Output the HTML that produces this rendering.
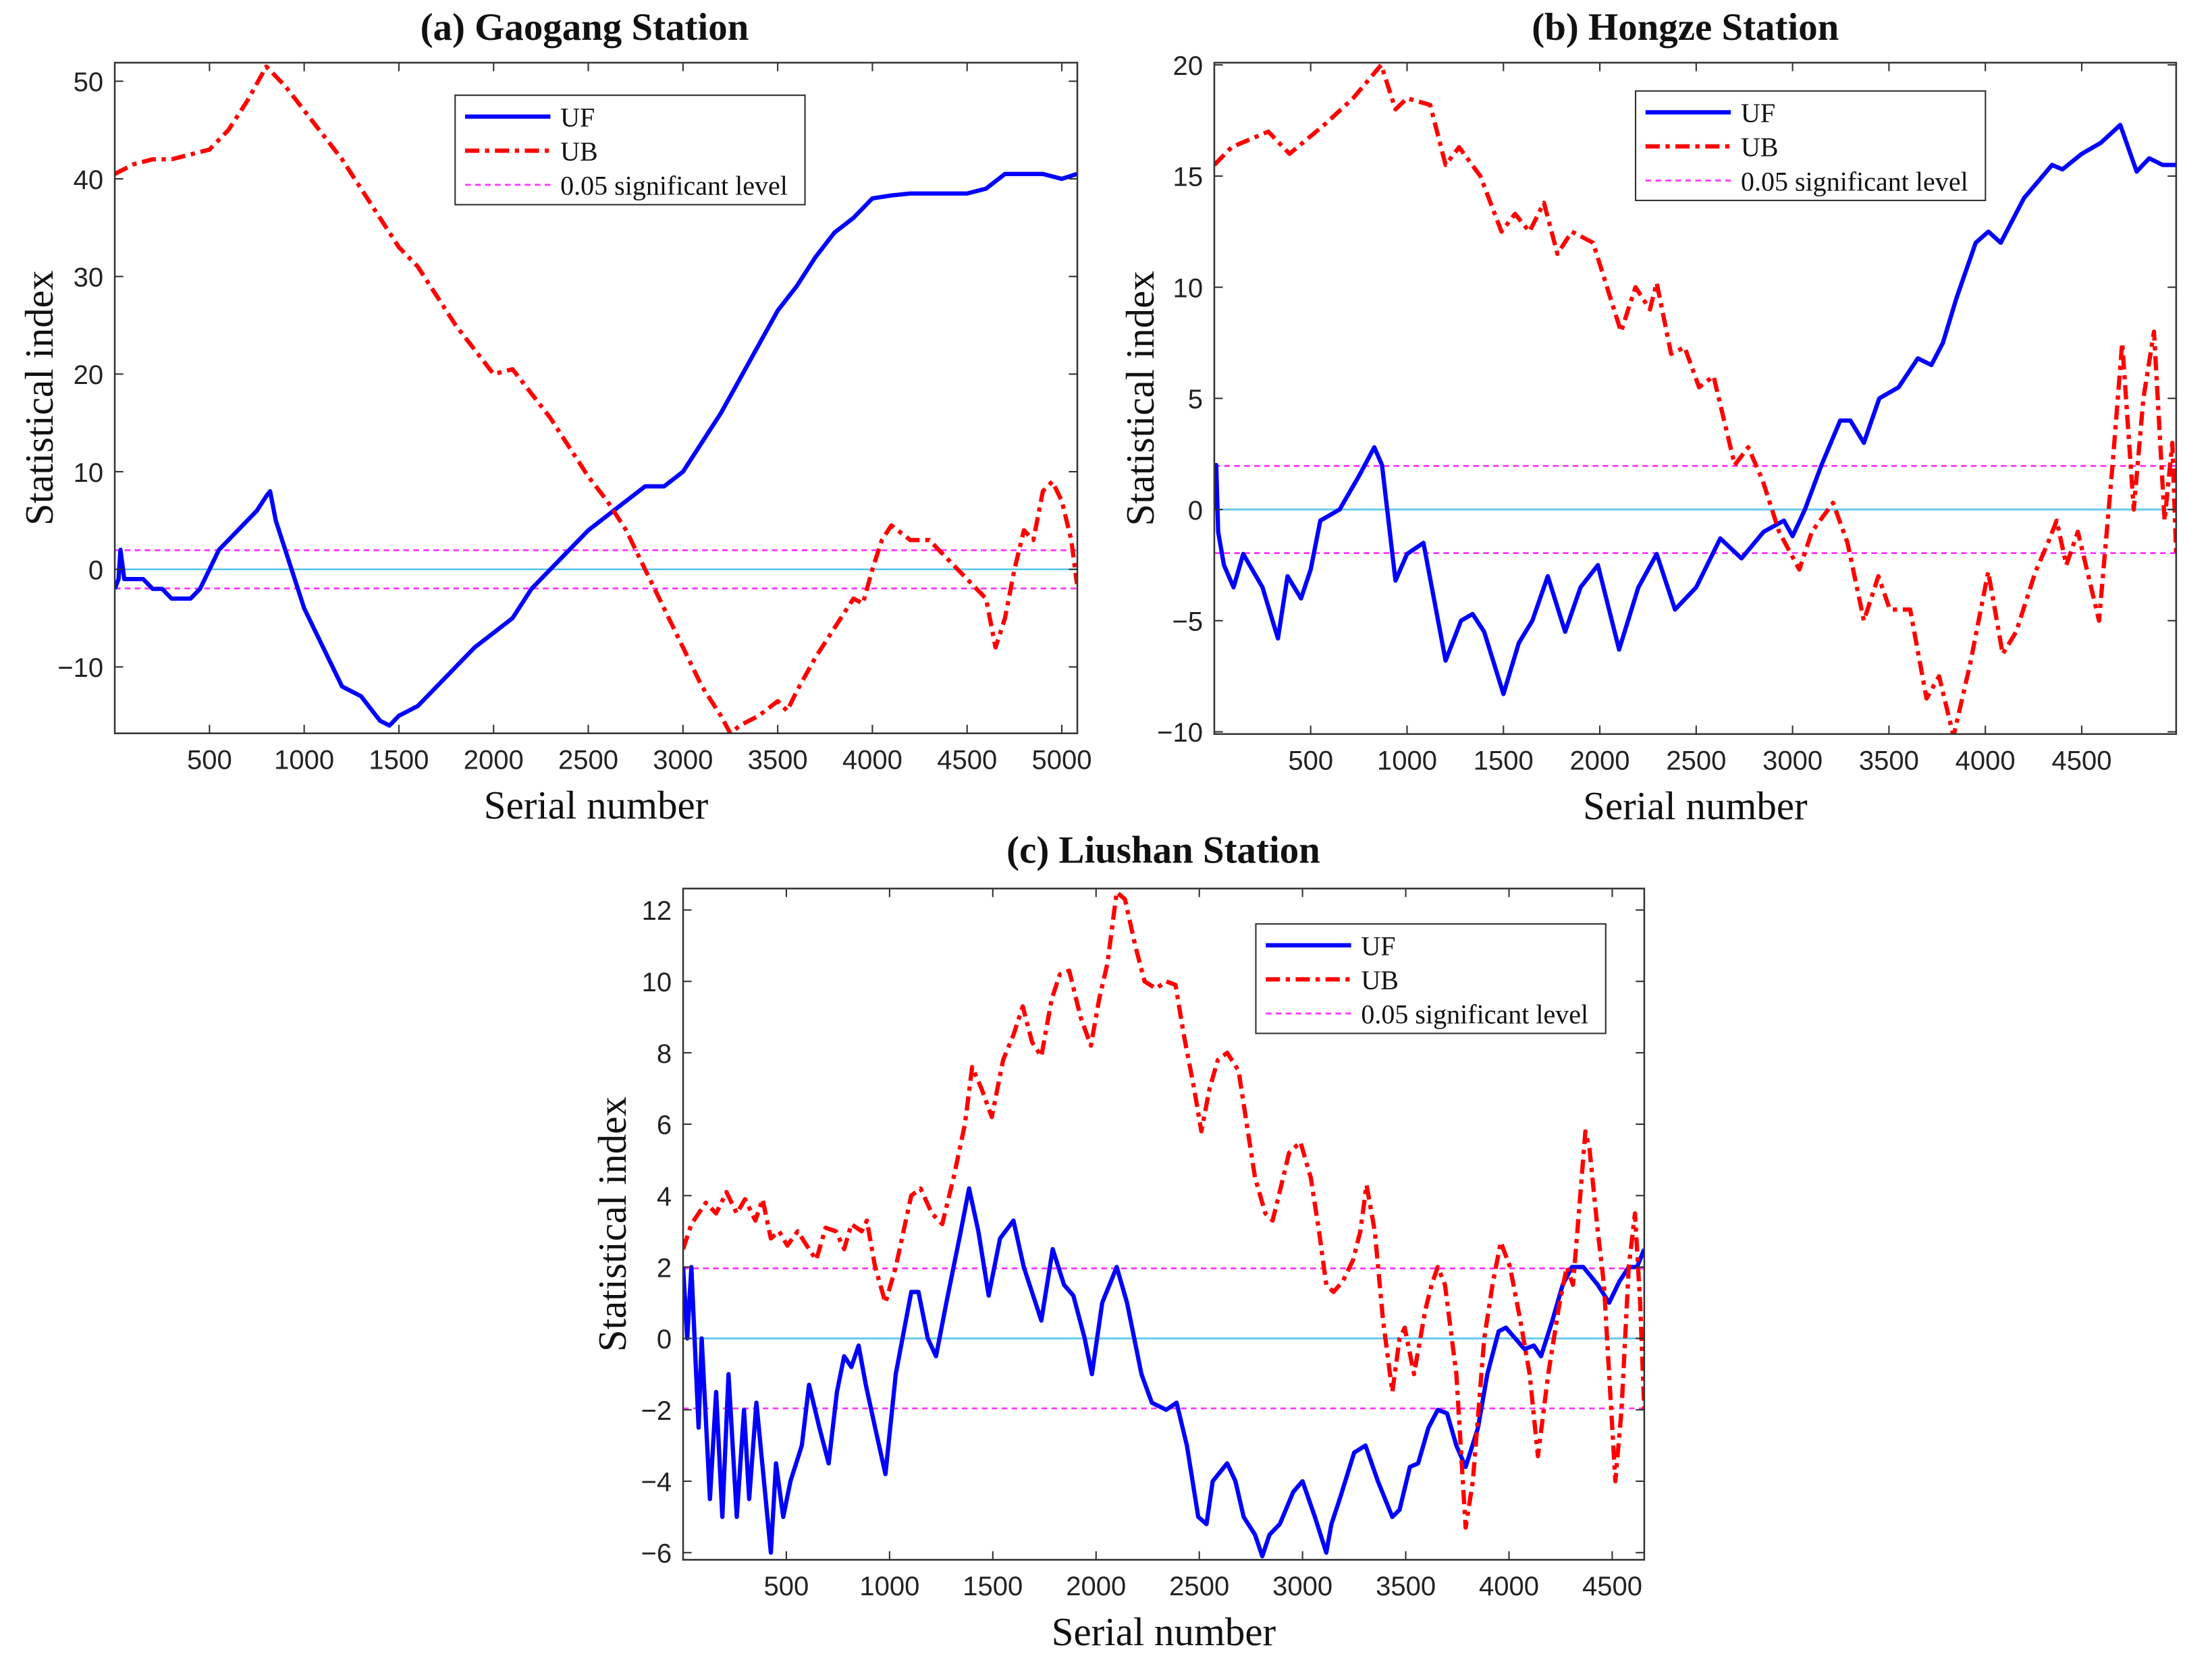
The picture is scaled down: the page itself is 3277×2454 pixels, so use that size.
<!DOCTYPE html>
<html><head><meta charset="utf-8"><style>
html,body{margin:0;padding:0;background:#fff}
svg{display:block}
</style></head><body>
<svg id="fig" width="3277" height="2454" viewBox="0 0 1555.3 1165" preserveAspectRatio="none" xmlns="http://www.w3.org/2000/svg"></svg>
<script>
// ---- Panel (a) Gaogang ----
const aUFx=[0,20,30,50,100,150,200,250,300,350,400,450,500,550,600,650,700,750,800,820,850,900,950,1000,1100,1200,1300,1400,1450,1500,1600,1700,1800,1900,2000,2100,2200,2300,2400,2500,2600,2700,2800,2900,3000,3100,3200,3300,3400,3500,3600,3700,3800,3900,4000,4100,4200,4300,4400,4500,4600,4700,4800,4900,5000,5080];
const aUFy=[-2,-1,2,-1,-1,-1,-2,-2,-3,-3,-3,-2,0,2,3,4,5,6,7.5,8,5,2,-1,-4,-8,-12,-13,-15.5,-16,-15,-14,-12,-10,-8,-6.5,-5,-2,0,2,4,5.5,7,8.5,8.5,10,13,16,19.5,23,26.5,29,32,34.5,36,38,38.3,38.5,38.5,38.5,38.5,39,40.5,40.5,40.5,40,40.5];
const aUBx=[0,100,200,300,400,500,600,700,800,900,1000,1100,1200,1300,1400,1500,1600,1700,1800,1900,2000,2100,2200,2300,2400,2500,2600,2700,2800,2900,3000,3100,3200,3250,3300,3400,3500,3550,3600,3700,3800,3900,3950,4000,4050,4100,4200,4300,4400,4500,4600,4650,4700,4750,4800,4850,4900,4950,5000,5050,5080];
const aUBy=[40.5,41.5,42,42,42.5,43,45,48,51.5,49.5,47,44.5,42,39,36,33,31,28,25,22.5,20,20.5,18,15.5,12.5,9.5,7,4,0,-4,-8,-12,-15,-16.8,-16,-15,-13.5,-14.5,-12.5,-9,-6,-3,-3.5,0,3,4.5,3,3,1,-1,-3,-8,-5,0,4,3,8,9,7,3,-1.5];
const aXTicks=[500,1000,1500,2000,2500,3000,3500,4000,4500,5000];
const aYTicks=[-10,0,10,20,30,40,50];
// ---- Panel (b) Hongze ----
const bUFx=[0,10,20,50,100,150,250,330,380,450,500,550,650,750,830,870,940,1000,1085,1200,1280,1340,1400,1500,1580,1650,1730,1820,1900,1990,2100,2200,2295,2390,2500,2625,2735,2850,2955,3000,3064,3150,3247,3300,3370,3450,3550,3650,3720,3780,3850,3950,4016,4080,4200,4346,4400,4500,4600,4700,4785,4850,4920,4990];
const bUFy=[0,2,-1,-2.5,-3.5,-2,-3.5,-5.8,-3,-4,-2.7,-0.5,0,1.5,2.8,2,-3.2,-2,-1.5,-6.8,-5,-4.7,-5.5,-8.3,-6,-5,-3,-5.5,-3.5,-2.5,-6.3,-3.5,-2,-4.5,-3.5,-1.3,-2.2,-1,-0.5,-1.2,0,2,4,4,3,5,5.5,6.8,6.5,7.5,9.5,12,12.5,12,14,15.5,15.3,16,16.5,17.3,15.2,15.8,15.5,15.5];
const bUBx=[0,90,280,390,570,720,866,940,1000,1120,1200,1270,1380,1490,1560,1635,1710,1780,1855,1965,2110,2185,2260,2295,2370,2440,2515,2590,2700,2770,2845,2930,3035,3100,3210,3285,3370,3445,3505,3610,3695,3760,3835,3920,4015,4090,4160,4260,4325,4370,4420,4480,4590,4660,4710,4770,4820,4875,4930,4970,4990];
const bUBy=[15.5,16.3,17,16,17.3,18.5,20,18,18.5,18.2,15.5,16.3,15,12.5,13.3,12.5,13.8,11.5,12.5,12,8,10,9,10.2,7,7.3,5.5,6,2,2.8,1.3,-1,-2.7,-1,0.3,-1.5,-5,-3,-4.5,-4.5,-8.5,-7.5,-10.2,-7,-2.8,-6.5,-5.5,-2.8,-1.5,-0.5,-2.5,-1,-5,2,7.5,0,5,8,-0.5,3,-2];
const bXTicks=[500,1000,1500,2000,2500,3000,3500,4000,4500];
const bYTicks=[-10,-5,0,5,10,15,20];
// ---- Panel (c) Liushan ----
const cUFx=[0,20,40,75,90,130,160,190,220,260,295,320,355,400,425,450,485,520,575,610,660,705,745,780,815,850,885,930,980,1030,1105,1140,1185,1225,1275,1345,1385,1430,1480,1535,1600,1650,1735,1790,1845,1890,1945,1980,2030,2100,2150,2220,2270,2340,2390,2440,2495,2535,2565,2635,2675,2715,2770,2805,2840,2890,2955,3000,3060,3115,3140,3180,3250,3305,3365,3435,3470,3520,3560,3610,3655,3700,3745,3790,3850,3895,3950,3985,4030,4075,4120,4155,4210,4260,4305,4360,4430,4485,4535,4580,4620,4655];
const cUFy=[2,0,2,-2.5,0,-4.5,-1.5,-5,-1,-5,-2,-4.5,-1.8,-4.5,-6,-3.5,-5,-4,-3,-1.3,-2.5,-3.5,-1.5,-0.5,-0.8,-0.2,-1.3,-2.5,-3.8,-1,1.3,1.3,0,-0.5,1,3,4.2,3,1.2,2.8,3.3,2,0.5,2.5,1.5,1.2,0,-1,1,2,1,-1,-1.8,-2,-1.8,-3,-5,-5.2,-4,-3.5,-4,-5,-5.5,-6.1,-5.5,-5.2,-4.3,-4,-5,-6,-5.2,-4.5,-3.2,-3,-4,-5,-4.8,-3.6,-3.5,-2.5,-2,-2.1,-3,-3.6,-2.5,-1,0.2,0.3,0,-0.3,-0.2,-0.5,0.5,1.5,2,2,1.5,1,1.6,2,2,2.5];
const cUBx=[0,40,110,160,210,260,300,350,385,425,465,505,555,610,645,690,740,780,815,865,890,930,980,1030,1105,1150,1205,1255,1310,1365,1400,1445,1495,1550,1600,1645,1690,1735,1785,1825,1870,1925,1975,2015,2055,2100,2140,2190,2235,2290,2340,2385,2425,2475,2510,2550,2590,2635,2690,2730,2770,2820,2855,2885,2935,2990,3040,3080,3115,3150,3195,3245,3280,3310,3350,3390,3435,3470,3495,3540,3595,3625,3655,3690,3745,3790,3825,3880,3920,3960,4005,4055,4100,4140,4190,4245,4280,4310,4345,4370,4390,4430,4460,4485,4515,4545,4580,4610,4635,4655];
const cUBy=[2.5,3.2,3.8,3.5,4.1,3.5,3.9,3.3,3.9,2.8,3,2.6,3,2.5,2.2,3.1,3,2.5,3.2,3,3.3,2,1,2,4,4.2,3.5,3.2,4.5,6,7.6,7,6.2,7.8,8.5,9.3,8.3,7.9,9.5,10.2,10.3,9,8.2,9.5,10.5,12.5,12.3,11,10,9.8,10,9.9,8.5,7,5.8,7,7.8,8,7.5,6,4.5,3.5,3.3,4,5.2,5.5,4.5,3,1.5,1.3,1.6,2.2,3,4.3,3,0.5,-1.5,0,0.3,-1,0.8,1.5,2,1.5,-1,-5.3,-4,0,1.5,2.7,2,0.5,-1,-3.3,-1,1,2,1.5,4,5.8,5.3,3,1.5,-1,-4,-2,2,3.5,1,-2];
const cXTicks=[500,1000,1500,2000,2500,3000,3500,4000,4500];
const cYTicks=[-6,-4,-2,0,2,4,6,8,10,12];

const NS='http://www.w3.org/2000/svg';
const svg=document.getElementById('fig');
function mk(tag,attrs,parent){const e=document.createElementNS(NS,tag);for(const k in attrs)e.setAttribute(k,attrs[k]);(parent||svg).appendChild(e);return e;}
const SERIF='"Liberation Serif", serif', SANS='"Liberation Sans", sans-serif';

function panel(p){
  const g=mk('g',{});
  
  
  const sx=v=>p.x0+(v-p.xmin)/(p.xmax-p.xmin)*(p.x1-p.x0);
  const sy=v=>p.y1-(v-p.ymin)/(p.ymax-p.ymin)*(p.y1-p.y0);
  const pts=(xs,ys)=>xs.map((x,i)=>sx(x).toFixed(2)+','+sy(ys[i]).toFixed(2)).join(' ');
  const clip=mk('clipPath',{id:'clip-'+p.id},g);
  mk('rect',{x:p.x0,y:p.y0,width:p.x1-p.x0,height:p.y1-p.y0},clip);
  const bg=mk('rect',{x:p.x0,y:p.y0,width:p.x1-p.x0,height:p.y1-p.y0,fill:'#fff'},g);
  
  
  const plot=mk('g',{'clip-path':'url(#clip-'+p.id+')'},g);
  const zl=mk('line',{x1:p.x0,x2:p.x1,y1:sy(0),y2:sy(0),stroke:'#5bc8f0','stroke-width':1.3},plot);
  
  
  [1.96,-1.96].forEach((v,i)=>{
    const l=mk('line',{x1:p.x0,x2:p.x1,y1:sy(v),y2:sy(v),stroke:'#ff33ff','stroke-width':1.3,'stroke-dasharray':'4,3'},plot);
    
    
  });
  const uf=mk('polyline',{points:pts(p.ufx,p.ufy),fill:'none',stroke:'#0000ff','stroke-width':3,'stroke-linejoin':'round'},plot);
  
  
  const ub=mk('polyline',{points:pts(p.ubx,p.uby),fill:'none',stroke:'#ff0000','stroke-width':3,'stroke-dasharray':'10,4,3,4','stroke-linejoin':'round'},plot);
  
  
  const fr=mk('rect',{x:p.x0,y:p.y0,width:p.x1-p.x0,height:p.y1-p.y0,fill:'none',stroke:'#333','stroke-width':1.2},g);
  
  
  p.xt.forEach(v=>{
    const x=sx(v);
    mk('line',{x1:x,x2:x,y1:p.y1,y2:p.y1-6,stroke:'#333','stroke-width':1},g);
    mk('line',{x1:x,x2:x,y1:p.y0,y2:p.y0+6,stroke:'#333','stroke-width':1},g);
    const t=mk('text',{x:x,y:p.y1+25,'text-anchor':'middle','font-family':SANS,'font-size':19,fill:'#222'},g);
    t.textContent=v;
    
    
  });
  p.yt.forEach(v=>{
    const y=sy(v);
    mk('line',{x1:p.x0,x2:p.x0+6,y1:y,y2:y,stroke:'#333','stroke-width':1},g);
    mk('line',{x1:p.x1,x2:p.x1-6,y1:y,y2:y,stroke:'#333','stroke-width':1},g);
    const t=mk('text',{x:p.x0-8,y:y+7,'text-anchor':'end','font-family':SANS,'font-size':19,fill:'#222'},g);
    t.textContent=v<0?'\u2212'+(-v):v;
    
    
  });
  const tt=mk('text',{x:p.tx,y:p.ty,'text-anchor':'middle','font-family':SERIF,'font-size':27,'font-weight':'bold',fill:'#111'},g);
  tt.textContent=p.title;
  
  
  const xl=mk('text',{x:(p.x0+p.x1)/2,y:p.y1+60,'text-anchor':'middle','font-family':SERIF,'font-size':28,fill:'#111'},g);
  xl.textContent='Serial number';
  
  
  const yc=(p.y0+p.y1)/2;
  const yl=mk('text',{x:p.ylx,y:yc,'text-anchor':'middle','font-family':SERIF,'font-size':28,fill:'#111',transform:'rotate(-90 '+p.ylx+' '+yc+')'},g);
  yl.textContent='Statistical index';
  
  
  const L=p.leg;
  const lg=mk('g',{},g);
  
  
  mk('rect',{x:L[0],y:L[1],width:246,height:77,fill:'#fff',stroke:'#333','stroke-width':1},lg);
  const items=[['UF','#0000ff','none',3],['UB','#ff0000','10,4,3,4',3],['0.05 significant level','#ff33ff','4,3',1.3]];
  items.forEach((it,i)=>{
    const y=L[1]+15+i*24;
    const e=mk('g',{},lg);
    
    
    mk('line',{x1:L[0]+7,x2:L[0]+67,y1:y,y2:y,stroke:it[1],'stroke-width':it[3],'stroke-dasharray':it[2]},e);
    const t=mk('text',{x:L[0]+74,y:y+7,'font-family':SERIF,'font-size':19,fill:'#111'},e);
    t.textContent=it[0];
  });
}
panel({id:'gaogang',title:'(a) Gaogang Station',x0:80.7,x1:757.5,y0:44.1,y1:515.9,xmin:0,xmax:5082,ymin:-16.8,ymax:51.9,ufx:aUFx,ufy:aUFy,ubx:aUBx,uby:aUBy,xt:aXTicks,yt:aYTicks,tx:411,ty:28,ylx:37,leg:[320,67]});
panel({id:'hongze',title:'(b) Hongze Station',x0:853.8,x1:1530.1,y0:44.1,y1:516.4,xmin:0,xmax:4990,ymin:-10.1,ymax:20.1,ufx:bUFx,ufy:bUFy,ubx:bUBx,uby:bUBy,xt:bXTicks,yt:bYTicks,tx:1185,ty:28,ylx:811,leg:[1150,64]});
panel({id:'liushan',title:'(c) Liushan Station',x0:480.3,x1:1156.1,y0:625.1,y1:1097.3,xmin:0,xmax:4655,ymin:-6.2,ymax:12.6,ufx:cUFx,ufy:cUFy,ubx:cUBx,uby:cUBy,xt:cXTicks,yt:cYTicks,tx:818,ty:607,ylx:440,leg:[883,650]});
</script>
</body></html>
